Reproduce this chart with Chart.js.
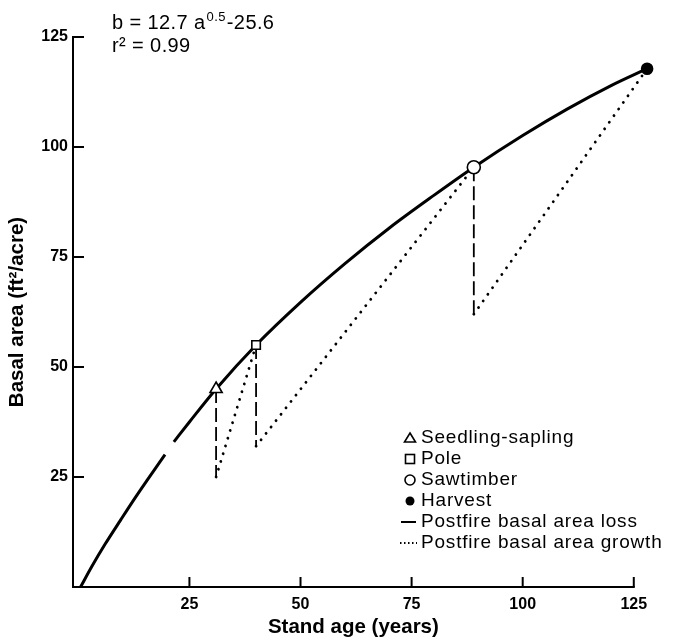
<!DOCTYPE html>
<html><head><meta charset="utf-8">
<script src="https://cdn.jsdelivr.net/npm/chart.js@4.4.1/dist/chart.umd.min.js"></script>
<style>html,body{margin:0;padding:0;background:#fff}#wrap{width:674px;height:640px}</style>
</head><body><div id="wrap"><canvas id="c" width="674" height="640"></canvas></div>
<script>
// ---- data ----
const curveAge   = [0.5, 3, 6, 9.5, 13, 15.5, 19.5, 20.5, 21.5, 25, 31, 40, 50, 60, 70, 80, 89, 100, 110, 120, 128];
const curveBasal = [0, 4.6, 9.7, 15.2, 20.6, 24.3, 30.1, null, 33.0, 37.5, 45, 55, 64.7, 73.5, 81.6, 89.0, 95.4, 102.6, 108.6, 114, 117.8];
const stageNames = ['Seedling-sapling', 'Pole', 'Sawtimber', 'Harvest'];
const stageAge   = [31, 40, 89, 128];
const stageBasal = [45, 55, 95.4, 117.8];
const postfireBasal = [25, 32, 62];
const lineLegendNames = ['Postfire basal area loss', 'Postfire basal area growth'];
const xTickValues = [25, 50, 75, 100, 125];
const yTickValues = [25, 50, 75, 100, 125];
const xAxisEnd = 125;
const equationParts = ['b = 12.7 a', '0.5', '-25.6'];
const fitText = 'r\u00B2 = 0.99';
const xTitle = 'Stand age (years)';
const yTitle = 'Basal area (ft\u00B2/acre)';

const FONT = '"Liberation Sans", Arial, Helvetica, sans-serif';

const curveData = curveAge.map((a, i) => ({x: a, y: curveBasal[i]}));
const lossData = [], growthData = [];
for (let i = 0; i < postfireBasal.length; i++) {
  lossData.push({x: stageAge[i], y: stageBasal[i]}, {x: stageAge[i], y: postfireBasal[i]});
  growthData.push({x: stageAge[i], y: postfireBasal[i]}, {x: stageAge[i + 1], y: stageBasal[i + 1]});
  if (i < postfireBasal.length - 1) {
    lossData.push({x: stageAge[i], y: null});
    growthData.push({x: stageAge[i + 1], y: null});
  }
}
const stageData = stageAge.map((a, i) => ({x: a, y: stageBasal[i]}));

const axisPlugin = {
  id: 'inTicks',
  afterDraw(chart) {
    const {ctx, chartArea: ca, scales: {x, y}} = chart;
    const xEnd = x.getPixelForValue(xAxisEnd);
    ctx.save();
    ctx.strokeStyle = '#000'; ctx.lineWidth = 2; ctx.lineCap = 'butt';
    // x axis line (stops at the last tick)
    ctx.beginPath(); ctx.moveTo(ca.left - 1, ca.bottom); ctx.lineTo(xEnd + 1, ca.bottom); ctx.stroke();
    xTickValues.forEach(v => { const px = x.getPixelForValue(v); ctx.beginPath(); ctx.moveTo(px, ca.bottom); ctx.lineTo(px, ca.bottom - 10); ctx.stroke(); });
    yTickValues.forEach(v => { const py = y.getPixelForValue(v); ctx.beginPath(); ctx.moveTo(ca.left, py); ctx.lineTo(ca.left + 11, py); ctx.stroke(); });
    // x axis title centred under the drawn axis
    ctx.fillStyle = '#000';
    ctx.font = `bold 20.5px ${FONT}`;
    ctx.textAlign = 'center'; ctx.textBaseline = 'middle';
    ctx.fillText(xTitle, (ca.left + xEnd) / 2, 627);
    ctx.restore();
  }
};

const textPlugin = {
  id: 'texts',
  afterDraw(chart) {
    const ctx = chart.ctx;
    ctx.save();
    ctx.fillStyle = '#000'; ctx.strokeStyle = '#000';
    try { ctx.letterSpacing = '0.4px'; } catch (e) {}
    // equation
    ctx.textBaseline = 'alphabetic'; ctx.textAlign = 'left';
    ctx.font = `20px ${FONT}`;
    let ex = 112, ey = 29;
    ctx.fillText(equationParts[0], ex, ey); ex += ctx.measureText(equationParts[0]).width + 1;
    ctx.font = `13px ${FONT}`;
    ctx.fillText(equationParts[1], ex, ey - 8); ex += ctx.measureText(equationParts[1]).width + 1;
    ctx.font = `20px ${FONT}`;
    ctx.fillText(equationParts[2], ex, ey);
    ctx.fillText(fitText, 112, 52);
    // legend
    try { ctx.letterSpacing = '0.8px'; } catch (e) {}
    ctx.font = `19px ${FONT}`;
    ctx.textBaseline = 'middle';
    const mx = 410, tx = 421, y0 = 438, dy = 21;
    const labels = stageNames.concat(lineLegendNames);
    ctx.lineWidth = 1.6;
    labels.forEach((t, i) => {
      const yy = y0 + i * dy;
      ctx.beginPath();
      if (i === 0) { ctx.moveTo(mx, yy - 5); ctx.lineTo(mx + 5.5, yy + 4); ctx.lineTo(mx - 5.5, yy + 4); ctx.closePath(); ctx.stroke(); }
      else if (i === 1) { ctx.strokeRect(mx - 4.5, yy - 4.5, 9, 9); }
      else if (i === 2) { ctx.arc(mx, yy, 5, 0, Math.PI * 2); ctx.stroke(); }
      else if (i === 3) { ctx.arc(mx, yy, 4.5, 0, Math.PI * 2); ctx.fill(); }
      else if (i === 4) { ctx.lineWidth = 2; ctx.moveTo(mx - 9, yy); ctx.lineTo(mx + 6, yy); ctx.stroke(); }
      else { ctx.lineWidth = 2; ctx.setLineDash([1.5, 2.5]); ctx.moveTo(mx - 10, yy); ctx.lineTo(mx + 7, yy); ctx.stroke(); ctx.setLineDash([]); }
      ctx.fillText(t, tx, yy);
    });
    ctx.restore();
  }
};

new Chart(document.getElementById('c'), {
  type: 'scatter',
  data: {
    datasets: [
      { label: 'stages', data: stageData, showLine: false, clip: false,
        pointStyle: ['triangle', 'rect', 'circle', 'circle'],
        pointRadius: [7, 6, 6.5, 5.5], pointHoverRadius: [7, 6, 6.5, 5.5],
        pointBackgroundColor: ['#fff', '#fff', '#fff', '#000'],
        pointBorderColor: '#000', pointBorderWidth: 1.6 },
      { label: 'curve', data: curveData, showLine: true, clip: false, spanGaps: false,
        borderColor: '#000', borderWidth: 3, pointRadius: 0, cubicInterpolationMode: 'monotone' },
      { label: 'loss', data: lossData, showLine: true, clip: false, spanGaps: false,
        borderColor: '#000', borderWidth: 1.8, borderDash: [14, 5], pointRadius: 0 },
      { label: 'growth', data: growthData, showLine: true, clip: false, spanGaps: false,
        borderColor: '#000', borderWidth: 2.8, borderDash: [0.1, 8], borderCapStyle: 'round', pointRadius: 0 }
    ]
  },
  options: {
    responsive: false, devicePixelRatio: 1, animation: false,
    layout: { padding: { top: 37, right: 18, left: 0, bottom: 0 } },
    plugins: { legend: { display: false }, tooltip: { enabled: false } },
    scales: {
      x: {
        type: 'linear', min: -1.2, max: 130,
        afterBuildTicks: s => { s.ticks = xTickValues.map(v => ({value: v})); },
        afterFit: s => { s.height = 53; },
        grid: { display: true, drawOnChartArea: false, drawTicks: false },
        border: { display: false },
        ticks: { color: '#000', padding: 8, font: { family: FONT, size: 16, weight: 'bold' } },
        title: { display: false, text: xTitle }
      },
      y: {
        type: 'linear', min: 0, max: 125,
        afterBuildTicks: s => { s.ticks = yTickValues.map(v => ({value: v})); },
        afterFit: s => { s.width = 73; },
        grid: { display: true, drawOnChartArea: false, drawTicks: false },
        border: { display: true, color: '#000', width: 2 },
        ticks: { color: '#000', padding: 5, font: { family: FONT, size: 16, weight: 'bold' } },
        title: { display: true, text: yTitle, color: '#000', padding: { top: 5, bottom: 0 }, font: { family: FONT, size: 20.5, weight: 'bold' } }
      }
    }
  },
  plugins: [axisPlugin, textPlugin]
});
</script>
</body></html>
